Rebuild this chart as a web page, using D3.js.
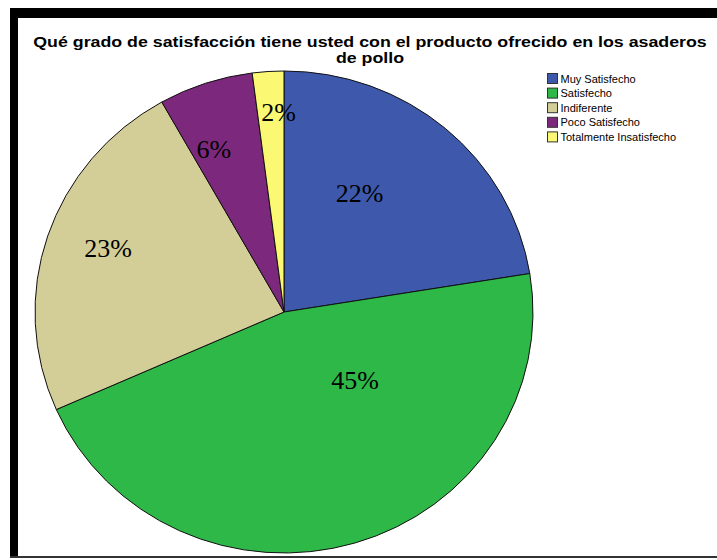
<!DOCTYPE html>
<html>
<head>
<meta charset="utf-8">
<script src="https://cdn.jsdelivr.net/npm/d3@7"></script>
<style>
  html, body { margin: 0; padding: 0; background: #fff; }
  svg { display: block; }
</style>
</head>
<body>
<script>
// Survey answers: share of respondents per satisfaction level (%)
const categories = ["Muy Satisfecho", "Satisfecho", "Indiferente", "Poco Satisfecho", "Totalmente Insatisfecho"];
const percentages = [22, 45, 23, 6, 2];
const colors = ["#3E58AC", "#2EB848", "#D3CE97", "#7C287D", "#FBF873"];
const titleLines = ["Qué grado de satisfacción tiene usted con el producto ofrecido en los asaderos", "de pollo"];

// Where each percentage label sits inside its slice:
// [fraction along the slice's angle, fraction of the radius]
const labelPlacement = [[0.39, 0.58], [0.325, 0.40], [0.527, 0.755], [0.31, 0.735], [0.8, 0.83]];

const W = 717, H = 560;
const cx = 284, cy = 312, rx = 249, ry = 241;

const svg = d3.select("body").append("svg").attr("width", W).attr("height", H);

// Frame
svg.append("rect").attr("x", 10).attr("y", 8).attr("width", W - 10).attr("height", 10).attr("fill", "#000");
svg.append("rect").attr("x", 10).attr("y", 8).attr("width", 8).attr("height", 550).attr("fill", "#000");
svg.append("rect").attr("x", 10).attr("y", 556).attr("width", W - 10).attr("height", 2).attr("fill", "#333");

// Title, stretched horizontally so the first line spans the chart width
const titleCx = 370, titleWidth = 674;
const titleG = svg.append("g");
const titleText = titleG.selectAll("text").data(titleLines).join("text")
  .attr("x", 0).attr("y", (d, i) => 47 + i * 16)
  .attr("text-anchor", "middle")
  .attr("font-family", "Liberation Sans, Arial, sans-serif")
  .attr("font-weight", "bold").attr("font-size", 15)
  .attr("fill", "#000")
  .text(d => d);
const natural = titleText.node().getComputedTextLength();
titleG.attr("transform", `translate(${titleCx},0) scale(${titleWidth / natural},1)`);

// Pie
const data = categories.map((c, i) => ({ cat: c, value: percentages[i], color: colors[i] }));
const pie = d3.pie().value(d => d.value).sort(null);
const arcs = pie(data);
const arc = d3.arc().innerRadius(0).outerRadius(rx);

const pieG = svg.append("g").attr("transform", `translate(${cx},${cy}) scale(1,${ry / rx})`);
pieG.selectAll("path").data(arcs).join("path")
  .attr("d", arc)
  .attr("fill", d => d.data.color)
  .attr("stroke", "#111")
  .attr("stroke-width", 1)
  .attr("vector-effect", "non-scaling-stroke");

// Percentage labels
const labelPos = (d, i) => {
  const [t, f] = labelPlacement[i];
  const a = d.startAngle + t * (d.endAngle - d.startAngle);
  return [cx + Math.sin(a) * rx * f, cy - Math.cos(a) * ry * f];
};
svg.append("g").selectAll("text").data(arcs).join("text")
  .attr("x", (d, i) => labelPos(d, i)[0])
  .attr("y", (d, i) => labelPos(d, i)[1])
  .attr("dy", "0.35em")
  .attr("text-anchor", "middle")
  .attr("font-family", "Liberation Serif, Times New Roman, serif")
  .attr("font-size", 26)
  .attr("fill", "#000")
  .text(d => d3.format(".0f")(d.data.value) + "%");

// Legend
const legend = svg.append("g").attr("transform", "translate(547,73)");
const rows = legend.selectAll("g").data(data).join("g")
  .attr("transform", (d, i) => `translate(0,${i * 14.6})`);
rows.append("rect").attr("x", 0.5).attr("y", 0.5).attr("width", 10).attr("height", 10)
  .attr("fill", d => d.color).attr("stroke", "#333").attr("stroke-width", 1);
rows.append("text").attr("x", 13.5).attr("y", 9.5)
  .attr("font-family", "Liberation Sans, Arial, sans-serif")
  .attr("font-size", 11).attr("fill", "#000")
  .text(d => d.cat);
</script>
</body>
</html>
